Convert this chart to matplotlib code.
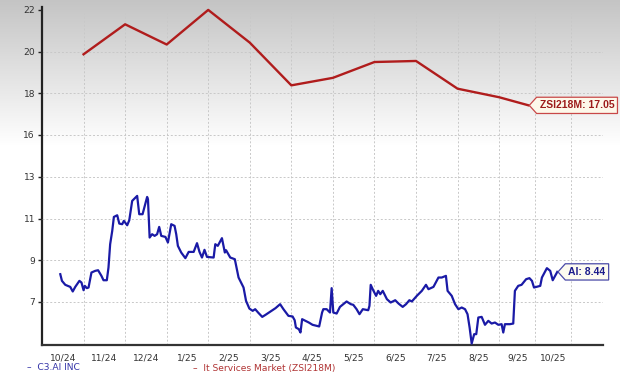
import numpy as np
import matplotlib
matplotlib.use("Agg")
import matplotlib.pyplot as plt
from matplotlib.path import Path

plt.rcParams['font.family'] = ['DejaVu Sans']

# x positions are in "months since 10/2024" along the chart's axis
month_edges = [0, 1, 2, 3, 4, 5, 6, 7, 8, 9, 10, 11, 11.87, 12.74]
month_labels = ['10/24', '11/24', '12/24', '1/25', '2/25', '3/25', '4/25',
                '5/25', '6/25', '7/25', '8/25', '9/25', '10/25']

# It Services Market (ZSI218M), monthly
zsi_x = [1, 2, 3, 4, 5, 6, 7, 8, 9, 10, 11, 11.71]
zsi_y = [19.87, 21.31, 20.34, 22.0, 20.43, 18.38, 18.74, 19.50, 19.55,
         18.22, 17.81, 17.42]
zsi_label = 'ZSI218M: 17.05'

# C3.AI INC price
ai_x = [0.44, 0.48, 0.56, 0.68, 0.74, 0.80, 0.90, 0.95, 1.00, 1.03, 1.08,
        1.12, 1.19, 1.28, 1.35, 1.43, 1.48, 1.56, 1.60, 1.64, 1.69, 1.73,
        1.81, 1.86, 1.93, 1.97, 2.05, 2.10, 2.17, 2.29, 2.34, 2.42, 2.53,
        2.55, 2.59, 2.65, 2.71, 2.77, 2.82, 2.87, 2.97, 3.03, 3.11, 3.19,
        3.23, 3.27, 3.35, 3.45, 3.53, 3.65, 3.73, 3.79, 3.85, 3.91, 3.97,
        4.13, 4.17, 4.23, 4.33, 4.40, 4.43, 4.53, 4.64, 4.73, 4.85, 4.91,
        4.99, 5.07, 5.13, 5.20, 5.30, 5.38, 5.50, 5.62, 5.73, 5.81, 5.93,
        6.03, 6.08, 6.11, 6.18, 6.22, 6.26, 6.34, 6.42, 6.51, 6.67, 6.74,
        6.77, 6.85, 6.93, 6.97, 7.01, 7.09, 7.17, 7.25, 7.33, 7.43, 7.49,
        7.57, 7.64, 7.72, 7.85, 7.88, 7.91, 7.97, 8.04, 8.09, 8.14, 8.20,
        8.30, 8.39, 8.50, 8.58, 8.68, 8.76, 8.84, 8.90, 9.02, 9.14, 9.24,
        9.30, 9.42, 9.54, 9.62, 9.72, 9.76, 9.86, 9.94, 10.02, 10.10, 10.18,
        10.24, 10.29, 10.34, 10.40, 10.45, 10.50, 10.58, 10.66, 10.74, 10.82,
        10.90, 10.98, 11.06, 11.10, 11.14, 11.26, 11.34, 11.38, 11.46, 11.54,
        11.65, 11.73, 11.79, 11.84, 11.99, 12.03, 12.15, 12.23, 12.29, 12.36,
        12.40]
ai_y = [8.33, 8.01, 7.82, 7.72, 7.50, 7.72, 8.01, 7.93, 7.56, 7.77, 7.66,
        7.69, 8.41, 8.49, 8.52, 8.25, 8.04, 8.04, 8.65, 9.77, 10.41, 11.08,
        11.16, 10.76, 10.73, 10.89, 10.68, 10.92, 11.85, 12.09, 11.21, 11.21,
        12.04, 11.93, 10.09, 10.25, 10.17, 10.25, 10.60, 10.17, 10.12, 9.85,
        10.73, 10.65, 10.25, 9.69, 9.37, 9.10, 9.40, 9.40, 9.82, 9.40, 9.13,
        9.50, 9.16, 9.13, 9.77, 9.69, 10.06, 9.37, 9.48, 9.13, 9.05, 8.17,
        7.69, 7.05, 6.68, 6.57, 6.65, 6.49, 6.28, 6.38, 6.54, 6.70, 6.89,
        6.65, 6.33, 6.30, 6.12, 5.77, 5.69, 5.53, 6.17, 6.09, 6.01, 5.90,
        5.82, 6.49, 6.65, 6.65, 6.49, 7.66, 6.49, 6.44, 6.76, 6.89, 7.02,
        6.89, 6.86, 6.65, 6.41, 6.65, 6.60, 6.81, 7.82, 7.56, 7.29, 7.53,
        7.37, 7.53, 7.13, 6.97, 7.08, 6.92, 6.76, 6.89, 7.08, 7.02, 7.29,
        7.53, 7.82, 7.61, 7.72, 8.17, 8.17, 8.25, 7.53, 7.29, 6.89, 6.65,
        6.73, 6.65, 6.41, 5.77, 5.00, 5.45, 5.45, 6.25, 6.28, 5.90, 6.09,
        5.96, 6.01, 5.90, 5.93, 5.53, 5.93, 5.93, 5.96, 7.53, 7.77, 7.82,
        8.09, 8.14, 8.01, 7.69, 7.77, 8.17, 8.62, 8.49, 8.04, 8.30, 8.44]
ai_label = 'AI: 8.44'

zsi_ticks = [16, 18, 20, 22]
ai_ticks = [7, 9, 11, 13]

RED = '#b01c1c'
BLUE = '#1a1aa6'


def tag_box(x0, y0, width, height, mutation_size):
    pad = 0.3 * mutation_size
    x0, y0 = x0 - pad, y0 - pad
    x1, y1 = x0 + width + 2 * pad, y0 + height + 2 * pad
    ym = (y0 + y1) / 2
    tip = x0 - 0.45 * (y1 - y0)
    verts = [(tip, ym), (x0, y0), (x1, y0), (x1, y1), (x0, y1), (tip, ym)]
    codes = [Path.MOVETO] + [Path.LINETO] * 4 + [Path.CLOSEPOLY]
    return Path(verts, codes)


fig = plt.figure(figsize=(6.2, 3.76), dpi=100)
fig.patch.set_facecolor('white')

# grey-to-white background fade at the top
bg = fig.add_axes([0, 0, 1, 1], zorder=-10)
rows = np.arange(376)
shade = np.clip(0.77 + 0.23 * rows / 145, 0, 1)
grad = np.repeat(shade[:, None], 2, axis=1)
bg.imshow(np.dstack([grad, grad, grad]), aspect='auto', extent=[0, 1, 0, 1])
bg.axis('off')

ax = fig.add_axes([42 / 620, 31 / 376, 561 / 620, 338 / 376])
ax.set_facecolor('none')
ax2 = ax.twinx()

ax.set_xlim(0, 13.5)
ax.set_ylim(5.92, 22.14)
ax2.set_ylim(4.93, 21.16)

grid_kw = dict(color='#c8c8c8', linestyle=(0, (2, 2)), linewidth=0.7)
ax.set_xticks(month_edges[1:])
ax.set_xticklabels([])
ax.xaxis.grid(True, **grid_kw)
edges = np.array(month_edges)
ax.set_xticks((edges[:-1] + edges[1:]) / 2, minor=True)
ax.set_xticklabels(month_labels, minor=True)
ax.tick_params(axis='x', which='both', length=0, labelsize=6.6,
               labelcolor='#333333', pad=6)

ax.set_yticks(zsi_ticks)
ax.yaxis.grid(True, **grid_kw)
ax2.set_yticks(ai_ticks)
ax2.yaxis.grid(True, **grid_kw)
ax2.yaxis.tick_left()
for a in (ax, ax2):
    a.tick_params(axis='y', length=3, width=1, color='#222222',
                  labelsize=6.6, labelcolor='#333333', pad=2)
    a.set_axisbelow(True)

for s in ('top', 'right'):
    ax.spines[s].set_visible(False)
ax.spines['left'].set_linewidth(1.6)
ax.spines['left'].set_color('#222222')
ax.spines['bottom'].set_linewidth(1.6)
ax.spines['bottom'].set_color('#333333')
for s in ax2.spines.values():
    s.set_visible(False)

ax.plot(zsi_x, zsi_y, color=RED, linewidth=1.7, solid_joinstyle='round')
ax2.plot(ai_x, ai_y, color=BLUE, linewidth=1.6, solid_joinstyle='round')

ax.annotate(zsi_label, xy=(zsi_x[-1], zsi_y[-1]), xytext=(8, 0),
            textcoords='offset points', ha='left', va='center',
            fontsize=7.5, fontweight='bold', color='#9c1a1a',
            family=['Liberation Sans'],
            bbox=dict(boxstyle=tag_box, fc='#fdf8ea', ec='#c84848', lw=0.9))
ax2.annotate(ai_label, xy=(ai_x[-1], ai_y[-1]), xytext=(8, 0),
             textcoords='offset points', ha='left', va='center',
             fontsize=7.5, fontweight='bold', color='#1c1c8c',
             family=['Liberation Sans'],
             bbox=dict(boxstyle=tag_box, fc='#fdfbf0', ec='#4a4aa8', lw=0.9))

fig.text(27 / 620, 1 - 368 / 376, '–  C3.AI INC', color='#3535a8',
         fontsize=6.6, va='center', ha='left')
fig.text(193 / 620, 1 - 368 / 376, '–  It Services Market (ZSI218M)',
         color='#b03434', fontsize=6.6, va='center', ha='left')

fig.savefig('out.png', dpi=100)
